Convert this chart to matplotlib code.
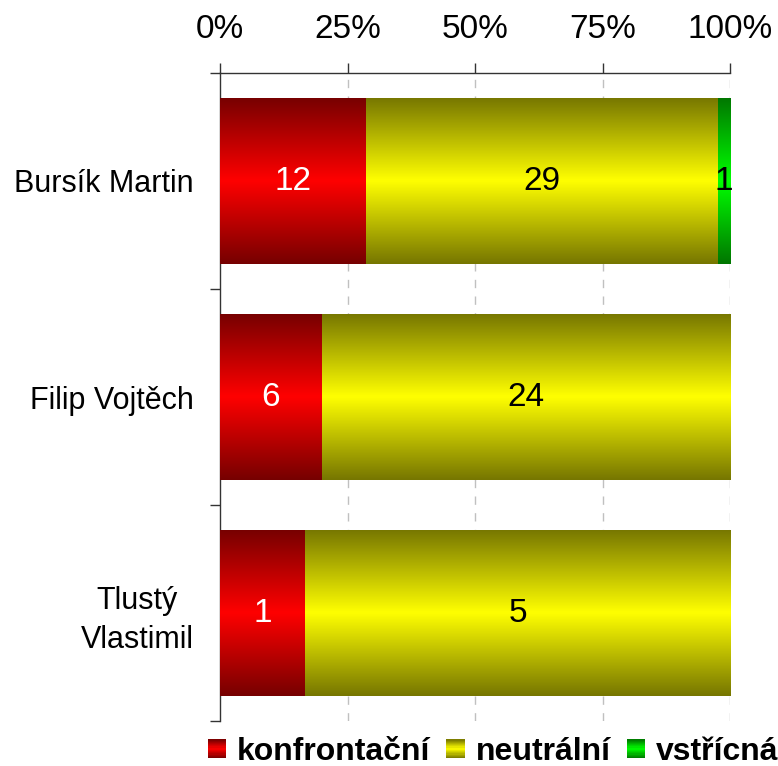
import numpy as np
import matplotlib
matplotlib.use('Agg')
import matplotlib.pyplot as plt
from matplotlib.legend_handler import HandlerBase
from matplotlib.patches import Rectangle

plt.rcParams['font.family'] = ['Liberation Sans', 'DejaVu Sans']

# ---- data ----
categories = ['Bursík Martin', 'Filip Vojtěch', 'Tlustý\nVlastimil']
series = ['konfrontační', 'neutrální', 'vstřícná']
konfrontacni = [12, 6, 1]
neutralni = [29, 24, 5]
vstricna = [1, 0, 0]
xticks = [0, 25, 50, 75, 100]
xticklabels = ['0%', '25%', '50%', '75%', '100%']

values = [konfrontacni, neutralni, vstricna]
bright_colors = [(1.0, 0.0, 0.0), (1.0, 1.0, 0.0), (0.0, 1.0, 0.0)]
label_colors = ['white', 'black', 'black']
EDGE = 0.46


def grad_color(c, t):
    f = EDGE + (1 - EDGE) * (1 - abs(2 * t - 1))
    return tuple(min(1, ch * f) for ch in c)


def grad_image(c, n=128):
    t = (np.arange(n) + 0.5) / n
    return np.array([grad_color(c, ti) for ti in t]).reshape(n, 1, 3)


fig = plt.figure(figsize=(7.78, 7.66), dpi=100)
ax = fig.add_axes([220 / 778, 1 - 721 / 766, 510 / 778, (721 - 73) / 766])

totals = np.sum(np.array(values, dtype=float), axis=0)
ypos = np.arange(len(categories))
left = np.zeros(len(categories))
bar_h = 0.77

for si, (vals, col) in enumerate(zip(values, bright_colors)):
    pct = np.array(vals, dtype=float) / totals * 100
    bars = ax.barh(ypos, pct, left=left, height=bar_h, color=col, edgecolor='none', zorder=2)
    for b, v, p in zip(bars, vals, pct):
        if v == 0:
            continue
        x0, y0, w, h = b.get_x(), b.get_y(), b.get_width(), b.get_height()
        im = ax.imshow(grad_image(col), extent=[x0, x0 + w, y0 + h, y0], aspect='auto',
                       interpolation='bilinear', zorder=3)
        im.set_clip_path(b)
        ax.text(x0 + w / 2, y0 + h / 2, str(v), ha='center', va='center',
                fontsize=24, color=label_colors[si], zorder=4)
    left = left + pct

ax.set_xlim(0, 100)
ax.set_ylim(len(categories) - 0.5, -0.5)

ax.xaxis.tick_top()
ax.set_xticks(xticks)
ax.set_xticklabels(xticklabels, fontsize=24)
ax.tick_params(axis='x', direction='out', length=7, width=1, color='#333333', pad=13)

ax.set_yticks(ypos)
ax.set_yticklabels(categories, fontsize=22, linespacing=1.38)
for lbl in ax.get_yticklabels():
    lbl.set_multialignment('center')
ax.set_yticks(np.arange(len(categories) + 1) - 0.5, minor=True)
ax.tick_params(axis='y', which='major', length=0, pad=19)
ax.tick_params(axis='y', which='minor', direction='out', length=7, width=1, color='#333333')

for s in ['right', 'bottom']:
    ax.spines[s].set_visible(False)
for s in ['left', 'top']:
    ax.spines[s].set_color('#333333')
    ax.spines[s].set_linewidth(1)

for xv in xticks[1:]:
    ax.axvline(xv, color='#c0c0c0', lw=1, ls=(0, (6, 6)), zorder=1)


class GradHandler(HandlerBase):
    def __init__(self, color):
        super().__init__()
        self.color = color

    def create_artists(self, legend, orig_handle, xdescent, ydescent, width, height, fontsize, trans):
        n = 16
        s = min(width, height)
        x0 = -xdescent + (width - s) / 2
        y0 = -ydescent + (height - s) / 2
        arts = []
        for i in range(n):
            t = (i + 0.5) / n
            arts.append(Rectangle((x0, y0 + i * s / n), s, s / n * 1.02,
                                  facecolor=grad_color(self.color, t), edgecolor='none',
                                  transform=trans))
        return arts


handles = [Rectangle((0, 0), 1, 1, color=c) for c in bright_colors]
hmap = {h: GradHandler(c) for h, c in zip(handles, bright_colors)}
fig.legend(handles, series, loc='center', bbox_to_anchor=(493 / 778, 14 / 766), ncol=3,
           frameon=False, handler_map=hmap, prop={'size': 23, 'weight': 'bold'},
           handlelength=0.58, handleheight=0.58, handletextpad=0.34, columnspacing=0.5,
           borderaxespad=0, borderpad=0)

fig.savefig('out.png', dpi=100)
